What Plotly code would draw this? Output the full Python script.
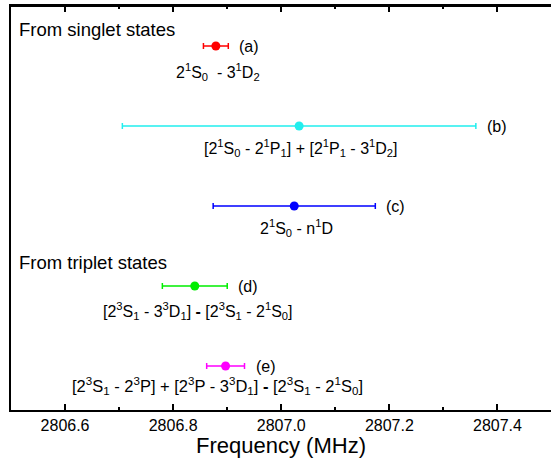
import plotly.graph_objects as go

# Data
labels = ["(a)", "(b)", "(c)", "(d)", "(e)"]
freq = [2806.879, 2807.033, 2807.024, 2806.840, 2806.897]
err = [0.023, 0.327, 0.150, 0.060, 0.035]
rows = [5, 4, 3, 2, 1]
colors = ["#ff0000", "#22eeee", "#0000ff", "#00ee00", "#ff00ff"]
descriptions = [
    "2<sup>1</sup>S<sub>0</sub>  - 3<sup>1</sup>D<sub>2</sub>",
    "[2<sup>1</sup>S<sub>0</sub> - 2<sup>1</sup>P<sub>1</sub>] + [2<sup>1</sup>P<sub>1</sub> - 3<sup>1</sup>D<sub>2</sub>]",
    "2<sup>1</sup>S<sub>0</sub> - n<sup>1</sup>D",
    "[2<sup>3</sup>S<sub>1</sub> - 3<sup>3</sup>D<sub>1</sub>] <b>-</b> [2<sup>3</sup>S<sub>1</sub> - 2<sup>1</sup>S<sub>0</sub>]",
    "[2<sup>3</sup>S<sub>1</sub> - 2<sup>3</sup>P] + [2<sup>3</sup>P - 3<sup>3</sup>D<sub>1</sub>] <b>-</b> [2<sup>3</sup>S<sub>1</sub> - 2<sup>1</sup>S<sub>0</sub>]",
]
desc_size = [16, 16, 16, 16, 16.5]
desc_shift = [-26, -22, -22, -25, -20]
desc_xshift = [2, 2, 2, 3, -8]
group_titles = ["From singlet states", "From triplet states"]
group_y = [0.9406, 0.366]

FONT = "Liberation Sans, Arial, sans-serif"

fig = go.Figure()
for lab, f, e, r, c in zip(labels, freq, err, rows, colors):
    fig.add_trace(go.Scatter(
        x=[f], y=[r], mode="markers",
        marker=dict(color=c, size=9),
        error_x=dict(type="data", array=[e], color=c, thickness=1.5, width=3),
        showlegend=False, name=lab,
    ))

annotations = []
for lab, f, e, r, d, ys, xs, sz in zip(labels, freq, err, rows, descriptions, desc_shift, desc_xshift, desc_size):
    annotations.append(dict(x=f + e, y=r, xref="x", yref="y", text=lab, showarrow=False,
                            xanchor="left", yanchor="middle", xshift=9,
                            font=dict(family=FONT, size=16, color="black")))
    annotations.append(dict(x=f, y=r, xref="x", yref="y", text=d, showarrow=False,
                            xanchor="center", yanchor="middle", yshift=ys, xshift=xs,
                            font=dict(family=FONT, size=sz, color="black")))
for t, gy in zip(group_titles, group_y):
    annotations.append(dict(x=0.012, y=gy, xref="paper", yref="paper", text=t, showarrow=False,
                            xanchor="left", yanchor="middle",
                            font=dict(family=FONT, size=18.5, color="black")))

fig.update_layout(
    width=551, height=458,
    margin=dict(l=11, r=0, t=6, b=48, autoexpand=False),
    paper_bgcolor="white", plot_bgcolor="white",
    annotations=annotations,
    shapes=[dict(type="line", xref="paper", yref="paper", x0=0, x1=1, y0=1, y1=1,
                 line=dict(color="black", width=2))],
    xaxis=dict(
        range=[2806.5, 2807.499],
        tickvals=[2806.6, 2806.8, 2807.0, 2807.2, 2807.4],
        ticktext=["2806.6", "2806.8", "2807.0", "2807.2", "2807.4"],
        ticks="inside", ticklen=6, tickwidth=2, tickcolor="black",
        minor=dict(dtick=0.1, tick0=2806.5, ticks="inside", ticklen=3, tickwidth=2, tickcolor="black"),
        showline=True, linecolor="black", linewidth=2, mirror="allticks",
        showgrid=False, zeroline=False, automargin=False,
        tickfont=dict(family=FONT, size=16, color="black"),
        title=dict(text="Frequency (MHz)", font=dict(family=FONT, size=22, color="black"), standoff=0),
    ),
    yaxis=dict(
        range=[0.45, 5.5],
        showticklabels=False, ticks="", showgrid=False, zeroline=False, automargin=False,
        showline=True, linecolor="black", linewidth=2, mirror=False,
    ),
)

fig.write_html(
    "out.html", config={"displayModeBar": False},
    post_script=("document.body.style.margin='0';document.body.style.padding='0';"
                 "document.body.style.overflow='hidden';"
                 "document.documentElement.style.overflow='hidden';"),
)
